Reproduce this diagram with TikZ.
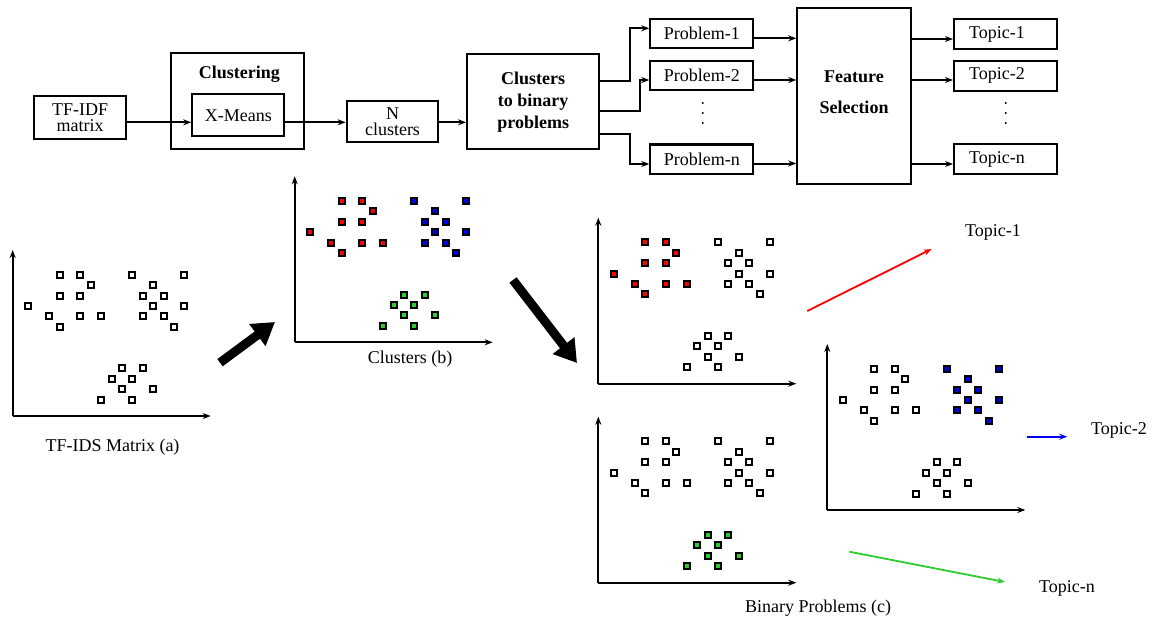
\documentclass[tikz,border=0pt]{standalone}
\usepackage{fontspec}
\setmainfont{Liberation Serif}
\newfontfamily\tnr{Liberation Serif}
\usetikzlibrary{arrows.meta}
\definecolor{cred}{RGB}{255,0,0}
\definecolor{cblue}{RGB}{0,0,235}
\definecolor{cgreen}{RGB}{45,205,45}
\newcommand{\fs}{\tnr\fontsize{18}{20}\selectfont}
\tikzset{
  box/.style={draw, line width=2.1pt, inner sep=0pt, font=\fs},
  probbox/.style={box, minimum width=103pt, minimum height=29.5pt},
  topicbox/.style={box, minimum height=30pt, inner xsep=15pt, text width=73.3pt, align=left},
  conn/.style={line width=2pt, -{Stealth[length=8pt,width=6pt]}},
  axisline/.style={line width=2pt, -{Stealth[length=8pt,width=6pt]}},
  sqr/.style={draw, line width=2pt},
  lbl/.style={font=\fs, inner sep=1pt},
  bigarrow/.style={line width=9pt, -{Triangle[length=22pt,width=26pt]}},
  colarrow/.style={line width=1.8pt, -{Stealth[length=8pt,width=6pt]}}
}
\newcommand{\onesq}[3]{\draw[sqr, fill=#3] ({15.7+10.4*#1-3},{-141.3+10.4*#2-3}) rectangle ++(6,6);}
\newcommand{\scatplot}[5]{%
  \begin{scope}[shift={(#1,#2)}]
    \draw[axisline] (0,0) -- (0,-166);
    \draw[axisline] (0,0) -- (198,0);
    \foreach \c/\r in {3/0,5/0,6/1,3/2,5/2,0/3,2/4,5/4,7/4,3/5} {\onesq{\c}{\r}{#3}}
    \foreach \c/\r in {10/0,15/0,12/1,11/2,13/2,12/3,15/3,11/4,13/4,14/5} {\onesq{\c}{\r}{#4}}
    \foreach \c/\r in {9/9,11/9,8/10,10/10,9/11,12/11,7/12,10/12} {\onesq{\c}{\r}{#5}}
  \end{scope}}
\begin{document}
\begin{tikzpicture}[x=1pt,y=-1pt]
\useasboundingbox (0,0) rectangle (1152,622);

% ---- top flow ----
\node[box, minimum width=91.7pt, minimum height=42.7pt, align=center, font=\tnr\fontsize{18}{16}\selectfont] (tfidf) at (80.2,117.3) {TF-IDF\\matrix};
\node[box, minimum width=133pt, minimum height=96.3pt] (clus) at (237.8,100.8) {};
\node[font=\bfseries\fs, inner sep=1pt] (cluslbl) at (239.3,74.3) {Clustering};
\node[box, minimum width=92pt, minimum height=42pt] (xm) at (238.3,115.3) {X-Means};
\node[box, minimum width=91.6pt, minimum height=41pt, align=center, font=\tnr\fontsize{18}{16}\selectfont] (nc) at (392.5,121.2) {N\\clusters};
\node[box, minimum width=132.3pt, minimum height=95.3pt, align=center, font=\tnr\bfseries\fontsize{18}{22}\selectfont] (c2b) at (533.2,101.7) {Clusters\\to binary\\problems};

\node[probbox] (p1) at (701.8,33.5) {Problem-1};
\node[probbox] (p2) at (701.8,75.5) {Problem-2};
\node[probbox] (pn) at (701.8,159.2) {Problem-n};

\node[box, minimum width=113.4pt, minimum height=176pt] (feat) at (854,96.3) {};
\node[align=center, font=\tnr\bfseries\fontsize{18}{31}\selectfont, inner sep=1pt] (featlbl) at (854,91.7) {Feature\\Selection};

\node[topicbox] (tp1) at (1005.7,34) {Topic-1};
\node[topicbox] (tp2) at (1005.7,75.8) {Topic-2};
\node[topicbox] (tpn) at (1005.7,159.3) {Topic-n};

\draw[conn] (tfidf.east |- 0,122.3) -- (xm.west |- 0,122.3);
\draw[conn] (xm.east |- 0,122.3) -- (nc.west |- 0,122.3);
\draw[conn] (nc.east |- 0,122.3) -- (c2b.west |- 0,122.3);

\draw[conn] (c2b.east |- 0,81) -- (629.5,81) -- (629.5,28.3) -- (p1.west |- 0,28.3);
\draw[conn] (c2b.east |- 0,111.3) -- (640,111.3) -- (640,80) -- (p2.west |- 0,80);
\draw[conn] (c2b.east |- 0,133.5) -- (630,133.5) -- (630,164) -- (pn.west |- 0,164);

\draw[conn] (p1.east |- 0,38.3) -- (feat.west |- 0,38.3);
\draw[conn] (p2.east |- 0,80) -- (feat.west |- 0,80);
\draw[conn] (pn.east |- 0,163.5) -- (feat.west |- 0,163.5);

\draw[conn] (feat.east |- 0,39) -- (tp1.west |- 0,39);
\draw[conn] (feat.east |- 0,80) -- (tp2.west |- 0,80);
\draw[conn] (feat.east |- 0,164) -- (tpn.west |- 0,164);

\foreach \yy in {103,113,123} {
  \fill (702.7,\yy) circle (1.1pt);
  \fill (1005.7,\yy) circle (1.1pt);
}

% ---- scatter plots ----
\scatplot{12.7}{416}{white}{white}{white}
\scatplot{294.7}{342.3}{cred}{cblue}{cgreen}
\scatplot{598.3}{383.7}{cred}{white}{white}
\scatplot{827.3}{510}{white}{cblue}{white}
\scatplot{598.3}{582.7}{white}{white}{cgreen}

\node[lbl] (la) at (112.5,446.7) {TF-IDS Matrix (a)};
\node[lbl] (lb) at (410,359) {Clusters (b)};
\node[lbl] (lc) at (818,608) {Binary Problems (c)};
\node[lbl] (t1) at (993,232.3) {Topic-1};
\node[lbl] (t2) at (1119,430) {Topic-2};
\node[lbl] (tn) at (1067,588) {Topic-n};

% ---- thick arrows ----
\coordinate (k0) at (220,362.7);
\coordinate (k1) at (275,322);
\coordinate (k2) at (513,280);
\coordinate (k3) at (577,363);
\draw[bigarrow] (k0) -- (k1);
\draw[bigarrow] (k2) -- (k3);

% ---- coloured arrows ----
\coordinate (r0) at (807.3,311);
\coordinate (r1) at (931.7,249);
\coordinate (b0) at (1026.7,436.7);
\coordinate (b1) at (1067.3,436.7);
\coordinate (g0) at (849.3,551.7);
\coordinate (g1) at (1005,582);
\draw[colarrow, cred] (r0) -- (r1);
\draw[colarrow, cblue] (b0) -- (b1);
\draw[colarrow, cgreen] (g0) -- (g1);
\end{tikzpicture}
\end{document}
